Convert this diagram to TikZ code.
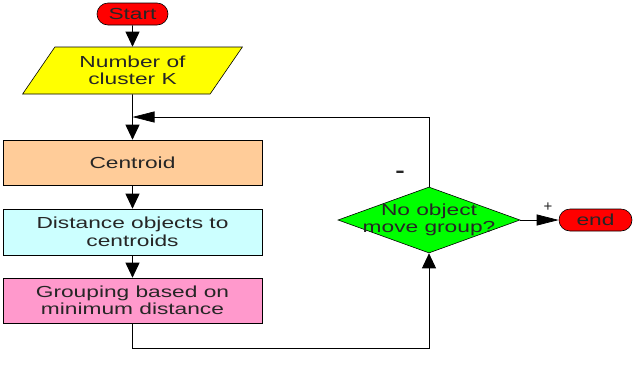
\documentclass[tikz,border=0pt]{standalone}
\usepackage{fontspec}
\setmainfont{Liberation Sans}
\usepackage{graphicx}
\usetikzlibrary{arrows.meta,shapes.geometric}
\definecolor{termred}{HTML}{FF0000}
\definecolor{inyellow}{HTML}{FFFF00}
\definecolor{peachbox}{HTML}{FFCC99}
\definecolor{cyanbox}{HTML}{CCFFFF}
\definecolor{pinkbox}{HTML}{FF99CC}
\definecolor{testgreen}{HTML}{00FF00}
\newcommand{\wide}[1]{\scalebox{1.42}[1]{#1}}

\begin{document}
\begin{tikzpicture}[x=1pt,y=-1pt,
  every node/.style={font=\fontsize{16}{17.5}\selectfont,text=black!85},
  term/.style={draw=black,line width=0.6pt,fill=termred,rounded corners=11pt,
    minimum width=71pt,minimum height=22pt,inner sep=0pt},
  stepbox/.style={draw=black,line width=0.6pt,minimum width=259pt,minimum height=45pt,
    align=center,inner sep=0pt},
  vflow/.style={line width=0.7pt,-{Triangle[length=15pt,width=14pt]}},
  hflow/.style={line width=0.7pt,-{Triangle[length=22pt,width=11pt]}}]
\useasboundingbox (0,0) rectangle (637,368);

\node[term] (start) at (132.5,14) {\wide{Start}};
\node[draw=black,line width=0.6pt,fill=inyellow,trapezium,trapezium left angle=53,
  trapezium right angle=127,trapezium stretches=true,minimum width=220pt,
  minimum height=47pt,align=center,inner sep=0pt] (clusters) at (132.5,70.5)
  {\wide{Number of}\\\wide{cluster K}};
\coordinate (merge) at (132.5,117);

\node[stepbox,fill=peachbox] (centroid) at (132.5,162.5) {\wide{Centroid}};
\node[stepbox,fill=cyanbox,minimum height=46pt] (distance) at (132.5,232)
  {\wide{Distance objects to}\\\wide{centroids}};
\node[stepbox,fill=pinkbox] (grouping) at (132.5,300.5)
  {\wide{Grouping based on}\\\wide{minimum distance}};

\node[draw=black,line width=0.6pt,fill=testgreen,diamond,minimum width=182pt,
  minimum height=66pt,inner sep=0pt,
  label={[align=center]center:{\wide{No object}\\\wide{move group?}}}] (test) at (429,220) {};
\node[term,minimum width=73pt] (end) at (595.5,220) {\wide{end}};

% branch marks
\node[font=\fontsize{20}{20}\selectfont\bfseries] (neg) at (400,174) {\wide{-}};
\node[font=\fontsize{15}{15}\selectfont] (pos) at (548,207) {+};

% flow
\draw[vflow] (start.south) -- (clusters.north);
\draw[vflow] (clusters.south) -- (centroid.north);
\draw[vflow] (centroid) -- (distance);
\draw[vflow] (distance) -- (grouping);
\draw[vflow] (grouping.south) -- ++(0,25) -| (test.south);
\draw[hflow] (test.north) |- (merge);
\draw[hflow] (test) -- (end);
\end{tikzpicture}
\end{document}
